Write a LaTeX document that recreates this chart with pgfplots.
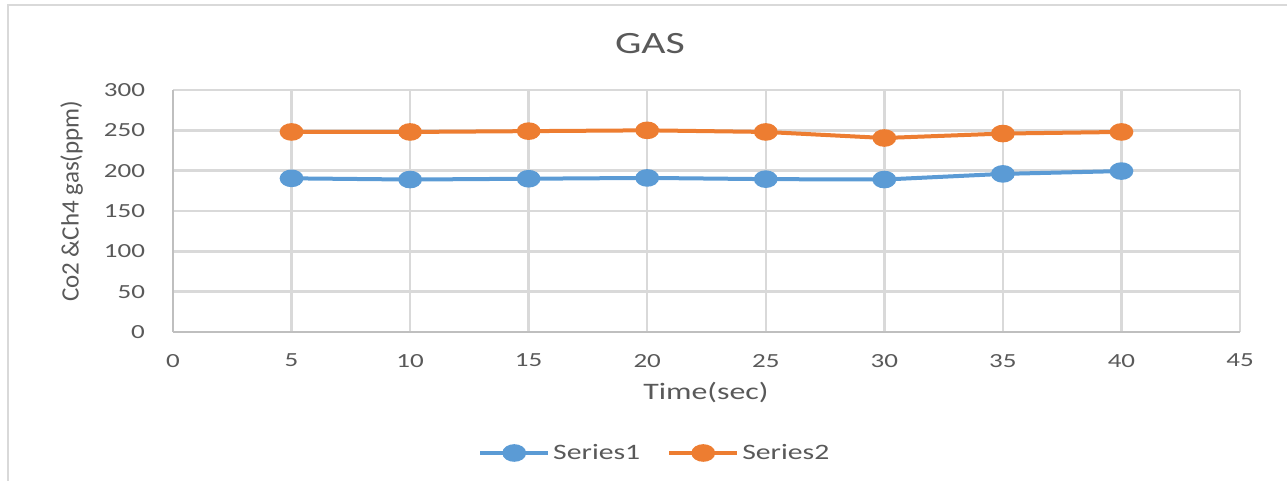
\documentclass[border=0pt]{standalone}
\usepackage{pgfplots}
\pgfplotsset{compat=1.18}
\usepackage{fontspec}
\setmainfont{Carlito}[FakeStretch=1.35]
\newfontfamily\plainfont{Carlito}
\definecolor{sOne}{HTML}{5B9BD5}
\definecolor{sTwo}{HTML}{ED7D31}
\definecolor{txt}{HTML}{595959}
\definecolor{gridc}{HTML}{D9D9D9}
\definecolor{axc}{HTML}{BFBFBF}
\begin{document}
\begin{tikzpicture}[x=0.5pt,y=0.5pt,font=\color{txt}]
% canvas 1287 x 481 units (1 unit = 0.5pt)
\useasboundingbox (0,0) rectangle (1287,481);
\draw[gridc, line width=1.2pt] (8,-10) rectangle (1300,476);
\node[font=\fontsize{15.5}{18}\selectfont\color{txt}] at (650,437) {GAS};
\begin{axis}[
  at={(86.5pt,74.5pt)}, anchor=south west,
  width=533.5pt, height=121pt, scale only axis,
  xmin=0, xmax=45, ymin=0, ymax=300,
  xtick={0,5,...,45}, ytick={0,50,...,300},
  grid=major,
  major grid style={gridc, line width=1.2pt},
  axis line style={axc, line width=1.1pt},
  axis x line*=bottom, axis y line*=left,
  major tick length=0pt,
  tick label style={font=\fontsize{10}{12}\selectfont\color{txt}},
  /pgf/number format/assume math mode=true,
  xticklabel style={yshift=-7.5pt},
  yticklabel style={xshift=-10.5pt},
  xlabel={Time(sec)},
  ylabel={Co2 \&Ch4 gas(ppm)},
  xlabel style={font=\fontsize{11.8}{14}\selectfont\color{txt},
    at={(axis description cs:0.4995,-0.252)}, anchor=center},
  ylabel style={font=\plainfont\fontsize{12.5}{15}\selectfont\color{txt},
    at={(axis description cs:-0.095,0.54)}, anchor=center},
  legend columns=2,
  legend style={at={(0.452,-0.5)}, anchor=center, draw=none, fill=none,
    font=\fontsize{11}{13}\selectfont\color{txt},
    nodes={inner sep=1.5pt},
    /tikz/every even column/.append style={column sep=12pt}},
  legend image code/.code={%
    \draw[mark repeat=2,mark phase=2,#1] plot coordinates {(0pt,0pt) (17pt,0pt) (34pt,0pt)};},
]
\addplot[sOne, line width=2pt, mark=*, mark size=3.4pt,
  mark options={fill=sOne, draw=sOne, xscale=1.45}]
  coordinates {(5,190.5) (10,189) (15,190) (20,191) (25,189.5) (30,189) (35,196) (40,199.5)};
\addlegendentry{Series1}
\addplot[sTwo, line width=2pt, mark=*, mark size=3.4pt,
  mark options={fill=sTwo, draw=sTwo, xscale=1.45}]
  coordinates {(5,248) (10,248) (15,249) (20,250) (25,248) (30,240.5) (35,246) (40,248)};
\addlegendentry{Series2}
\end{axis}
\end{tikzpicture}
\end{document}
